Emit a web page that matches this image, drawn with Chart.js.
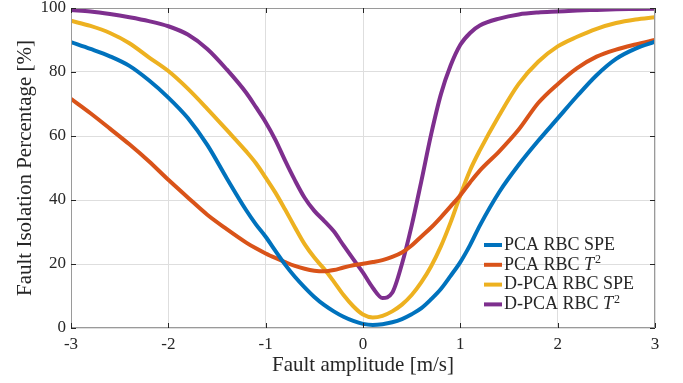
<!DOCTYPE html>
<html>
<head>
<meta charset="utf-8">
<script src="https://cdn.jsdelivr.net/npm/chart.js@4"></script>
<style>
html,body{margin:0;padding:0;background:#fff;}
#wrap{width:683px;height:383px;}
</style>
</head>
<body>
<div id="wrap"><canvas id="c" width="683" height="383"></canvas></div>
<script>
const xValues = [-3,-2.8,-2.6,-2.4,-2.2,-2,-1.8,-1.6,-1.4,-1.2,-1.1,-1,-0.9,-0.8,-0.7,-0.6,-0.5,-0.4,-0.3,-0.2,-0.1,0,0.1,0.2,0.3,0.4,0.5,0.6,0.7,0.8,0.9,1,1.1,1.2,1.4,1.6,1.8,2,2.2,2.4,2.6,2.8,3];
const pcaSpe  = [89.3,87.2,84.9,81.9,77.4,72,65.6,57.2,46.8,36.8,32.4,28.5,24.1,19.8,16,12.7,9.7,7.2,5.2,3.5,2.2,1.3,0.95,1.2,1.8,2.8,4.3,6.2,9,12.2,16.3,20.6,25.9,32,42.5,51,58.5,65.5,72.5,79,84.1,87.3,89.5];
const pcaT2   = [71.6,67.1,62.3,57.4,52.1,46.3,40.8,35.4,30.9,26.7,24.9,23.3,21.9,20.6,19.4,18.5,17.9,17.7,18.1,18.9,19.6,20.1,20.6,21.2,22.2,23.6,25.8,28.6,31.4,34.6,38,41.5,45.5,49.2,55.2,62,70.3,76.2,81.2,84.8,87,88.6,90];
const dpcaSpe = [96,94.4,92.2,89,84.6,80.3,74.8,68.5,61.9,55.2,51.5,47,42.3,37,31.5,26.2,22,18.5,14.5,10.3,6.8,4.2,3.3,3.8,5.2,7.3,10.3,14.3,19.3,25.5,33,41.5,49.3,55.5,66.5,76.3,83.2,88,91,93.5,95.3,96.4,97.1];
const dpcaT2  = [99.4,98.9,98.1,97.1,95.9,94.3,91.7,87.2,80.8,73.5,69,64.3,58.8,52.3,46.2,40.7,36.6,33.5,30.2,25.8,21.5,17.3,12.6,9.4,11,20,32,46,60.5,73,82,88.5,92.2,94.5,96.7,98,98.6,98.9,99.2,99.4,99.6,99.7,99.8];
const seriesLabels = ['PCA RBC SPE','PCA RBC T²','D-PCA RBC SPE','D-PCA RBC T²'];
const xTicks = [-3,-2,-1,0,1,2,3];
const yTicks = [0,20,40,60,80,100];
const xTitle = 'Fault amplitude [m/s]';
const yTitle = 'Fault Isolation Percentage [%]';

const colors = ['#0072BD','#D95319','#EDB120','#7E2F8E'];
const seriesData = [pcaSpe, pcaT2, dpcaSpe, dpcaT2];
const FONT = "'Liberation Serif', 'Times New Roman', serif";
const TEXT = '#262626';

const datasets = seriesData.map((arr, i) => ({
  label: seriesLabels[i],
  data: xValues.map((x, j) => ({x: x, y: arr[j]})),
  borderColor: colors[i],
  backgroundColor: colors[i],
  borderWidth: 4,
  pointRadius: 0,
  cubicInterpolationMode: 'monotone',
  fill: false
}));

const framePlugin = {
  id: 'frame',
  afterDatasetsDraw(chart) {
    const {ctx, chartArea: a, scales: {x, y}} = chart;
    ctx.save();
    ctx.strokeStyle = '#9a9a9a';
    ctx.lineWidth = 1;
    ctx.strokeRect(a.left + 0.5, a.top + 0.5, a.right - a.left - 1, a.bottom - a.top - 1);
    ctx.strokeStyle = TEXT;
    ctx.beginPath();
    const L = 5;
    xTicks.forEach(v => {
      const px = Math.round(x.getPixelForValue(v)) + 0.5;
      ctx.moveTo(px, a.bottom); ctx.lineTo(px, a.bottom - L);
      ctx.moveTo(px, a.top); ctx.lineTo(px, a.top + L);
    });
    yTicks.forEach(v => {
      const py = Math.round(y.getPixelForValue(v)) + 0.5;
      ctx.moveTo(a.left, py); ctx.lineTo(a.left + L, py);
      ctx.moveTo(a.right, py); ctx.lineTo(a.right - L, py);
    });
    ctx.stroke();

    const lx = a.right - 171;
    const ly0 = a.bottom - 83;
    const dy = 19.8;
    ctx.textBaseline = 'middle';
    ctx.fillStyle = TEXT;
    chart.data.datasets.forEach((ds, i) => {
      const cy = ly0 + i * dy;
      ctx.strokeStyle = ds.borderColor;
      ctx.lineWidth = 4;
      ctx.beginPath();
      ctx.moveTo(lx, cy); ctx.lineTo(lx + 18, cy);
      ctx.stroke();
      let tx = lx + 20;
      const lab = ds.label;
      ctx.font = '18px ' + FONT;
      if (lab.endsWith('T²')) {
        const pre = lab.slice(0, -2);
        ctx.fillText(pre, tx, cy); tx += ctx.measureText(pre).width;
        ctx.font = 'italic 18px ' + FONT;
        ctx.fillText('T', tx, cy); tx += ctx.measureText('T').width + 1;
        ctx.font = '12px ' + FONT;
        ctx.fillText('2', tx, cy - 5);
      } else {
        ctx.fillText(lab, tx, cy);
      }
    });
    ctx.restore();
  }
};

new Chart(document.getElementById('c'), {
  type: 'line',
  data: { datasets },
  options: {
    responsive: false,
    animation: false,
    layout: { padding: { left: 0, right: 28, top: 8, bottom: 0 } },
    plugins: { legend: { display: false }, tooltip: { enabled: false } },
    scales: {
      x: {
        type: 'linear', min: -3, max: 3,
        afterFit(s) { s.height = 55; s.paddingLeft = 0; s.paddingRight = 0; },
        afterBuildTicks(s) { s.ticks = xTicks.map(v => ({value: v})); },
        ticks: { padding: 6, color: TEXT, font: { family: FONT, size: 17 }, callback: v => String(v) },
        grid: { color: '#dedede', drawTicks: false },
        border: { display: false },
        title: { display: true, text: xTitle, color: TEXT, font: { family: FONT, size: 21 }, padding: { top: 0, bottom: 5 } }
      },
      y: {
        type: 'linear', min: 0, max: 100,
        afterFit(s) { s.width = 71; s.paddingTop = 0; s.paddingBottom = 0; },
        afterBuildTicks(s) { s.ticks = yTicks.map(v => ({value: v})); },
        ticks: { padding: 5, color: TEXT, font: { family: FONT, size: 17 } },
        grid: { color: '#dedede', drawTicks: false },
        border: { display: false },
        title: { display: true, text: yTitle, color: TEXT, font: { family: FONT, size: 21 }, padding: { top: 13, bottom: 0 } }
      }
    }
  },
  plugins: [framePlugin]
});
</script>
</body>
</html>
